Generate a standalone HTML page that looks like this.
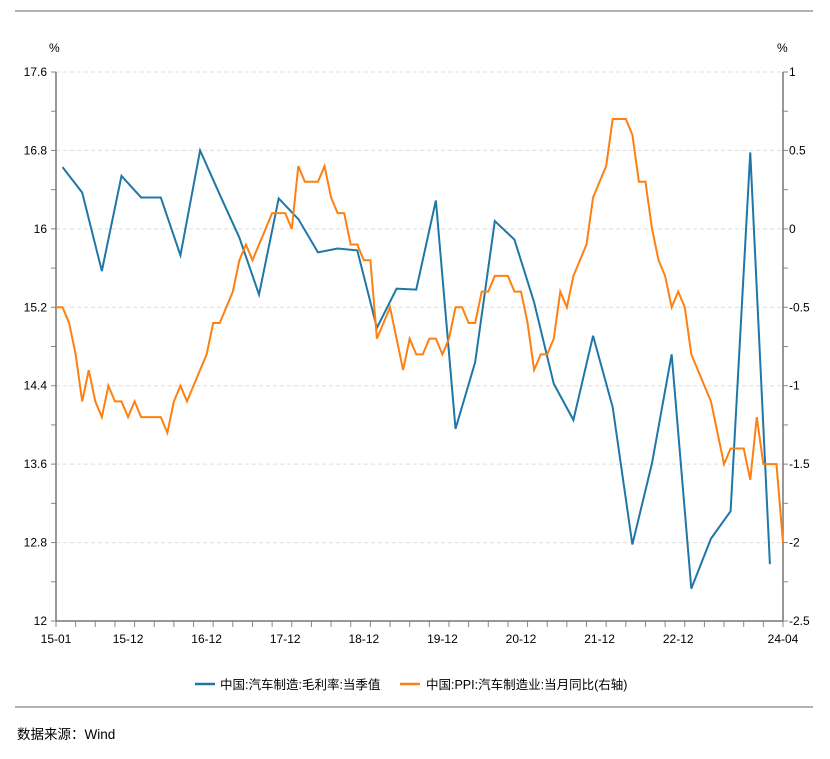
<!DOCTYPE html>
<html><head><meta charset="utf-8"><style>
body{margin:0;background:#fff;width:830px;height:754px;overflow:hidden;font-family:"Liberation Sans","Noto Sans CJK SC",sans-serif}
svg text{font-family:"Liberation Sans","Noto Sans CJK SC",sans-serif}
</style></head><body>
<svg id="chart" width="830" height="754" xmlns="http://www.w3.org/2000/svg">
<line x1="15" y1="11" x2="813" y2="11" stroke="#999" stroke-width="1.5"/>
<line x1="15" y1="707" x2="813" y2="707" stroke="#999" stroke-width="1.5"/>
<text x="49" y="52" font-size="12">%</text>
<text x="777" y="52" font-size="12">%</text>
<g id="grid"></g><g id="axes"></g><g id="series"></g>
<g>
<line x1="195" y1="684" x2="215" y2="684" stroke="#1f77a8" stroke-width="2.5"/>
<text x="220" y="689" font-size="12.5">中国:汽车制造:毛利率:当季值</text>
<line x1="400" y1="684" x2="420" y2="684" stroke="#ff8010" stroke-width="2.5"/>
<text x="426" y="689" font-size="12.5">中国:PPI:汽车制造业:当月同比(右轴)</text>
</g>
<text x="17" y="739" font-size="13.5">数据来源：Wind</text>
</svg>
<script>
const xTickLabels=["15-01","15-12","16-12","17-12","18-12","19-12","20-12","21-12","22-12","24-04"];
const xTickMonths=[0,11,23,35,47,59,71,83,95,111];
const leftTicks=[12,12.8,13.6,14.4,15.2,16,16.8,17.6];
const rightTicks=[-2.5,-2,-1.5,-1,-0.5,0,0.5,1];
const marginMonths=[1,4,7,10,13,16,19,22,25,28,31,34,37,40,43,46,49,52,55,58,61,64,67,70,73,76,79,82,85,88,91,94,97,100,103,106,109];
const marginValues=[16.63,16.37,15.57,16.54,16.32,16.32,15.73,16.80,16.35,15.91,15.33,16.31,16.10,15.76,15.80,15.78,14.99,15.39,15.38,16.29,13.96,14.64,16.08,15.89,15.25,14.42,14.05,14.91,14.18,12.78,13.61,14.72,12.33,12.84,13.12,16.78,12.58];
const ppiValues=[-0.5,-0.5,-0.6,-0.8,-1.1,-0.9,-1.1,-1.2,-1.0,-1.1,-1.1,-1.2,-1.1,-1.2,-1.2,-1.2,-1.2,-1.3,-1.1,-1.0,-1.1,-1.0,-0.9,-0.8,-0.6,-0.6,-0.5,-0.4,-0.2,-0.1,-0.2,-0.1,0.0,0.1,0.1,0.1,0.0,0.4,0.3,0.3,0.3,0.4,0.2,0.1,0.1,-0.1,-0.1,-0.2,-0.2,-0.7,-0.6,-0.5,-0.7,-0.9,-0.7,-0.8,-0.8,-0.7,-0.7,-0.8,-0.7,-0.5,-0.5,-0.6,-0.6,-0.4,-0.4,-0.3,-0.3,-0.3,-0.4,-0.4,-0.6,-0.9,-0.8,-0.8,-0.7,-0.4,-0.5,-0.3,-0.2,-0.1,0.2,0.3,0.4,0.7,0.7,0.7,0.6,0.3,0.3,0.0,-0.2,-0.3,-0.5,-0.4,-0.5,-0.8,-0.9,-1.0,-1.1,-1.3,-1.5,-1.4,-1.4,-1.4,-1.6,-1.2,-1.5,-1.5,-1.5,-2.0];

const X0=56,X1=783,Y0=621,Y1=72,NM=111;
const x=m=>X0+(X1-X0)*m/NM;
const yL=v=>Y0-(v-12)/(17.6-12)*(Y0-Y1);
const yR=v=>Y0-(v+2.5)/3.5*(Y0-Y1);
const NS="http://www.w3.org/2000/svg";
function mk(tag,attrs,parent){const e=document.createElementNS(NS,tag);for(const k in attrs)e.setAttribute(k,attrs[k]);parent.appendChild(e);return e;}
const grid=document.getElementById('grid'),axes=document.getElementById('axes'),series=document.getElementById('series');
leftTicks.forEach((v,i)=>{
  const y=yL(v);
  if(i>0){const g=mk('line',{x1:X0,x2:X1,y1:y,y2:y,stroke:'#ddd','stroke-dasharray':'4,3'},grid);
  
  }
  const t=mk('text',{x:X0-9,y:y+4,'font-size':12,'text-anchor':'end'},axes);t.textContent=v;
  
  
});
for(let v=12;v<=17.61;v+=0.4){const y=yL(v);mk('line',{x1:X0-5,x2:X0,y1:y,y2:y,stroke:'#888'},axes);}
rightTicks.forEach(v=>{
  const y=yR(v);
  const t=mk('text',{x:X1+6,y:y+4,'font-size':12},axes);t.textContent=v;
  
  
});
for(let v=-2.5;v<=1.01;v+=0.25){const y=yR(v);mk('line',{x1:X1,x2:X1+5,y1:y,y2:y,stroke:'#888'},axes);}
for(let m=0;m<=NM;m+=3){mk('line',{x1:x(m),x2:x(m),y1:Y0,y2:Y0+6,stroke:'#888'},axes);}
mk('line',{x1:x(NM),x2:x(NM),y1:Y0,y2:Y0+6,stroke:'#888'},axes);
xTickLabels.forEach((l,i)=>{
  const t=mk('text',{x:x(xTickMonths[i]),y:Y0+22,'font-size':12,'text-anchor':'middle'},axes);t.textContent=l;
  
  
});
const la=mk('line',{x1:X0,x2:X0,y1:Y1,y2:Y0,stroke:'#777','stroke-width':1.5},axes);


const ra=mk('line',{x1:X1,x2:X1,y1:Y1,y2:Y0,stroke:'#777','stroke-width':1.5},axes);


const xa=mk('line',{x1:X0,x2:X1,y1:Y0,y2:Y0,stroke:'#777','stroke-width':1.5},axes);


const p1=mk('polyline',{points:marginValues.map((v,i)=>x(marginMonths[i])+','+yL(v)).join(' '),fill:'none',stroke:'#1f77a8','stroke-width':2},series);


const p2=mk('polyline',{points:ppiValues.map((v,i)=>x(i)+','+yR(v)).join(' '),fill:'none',stroke:'#ff8010','stroke-width':2},series);


</script>
</body></html>
